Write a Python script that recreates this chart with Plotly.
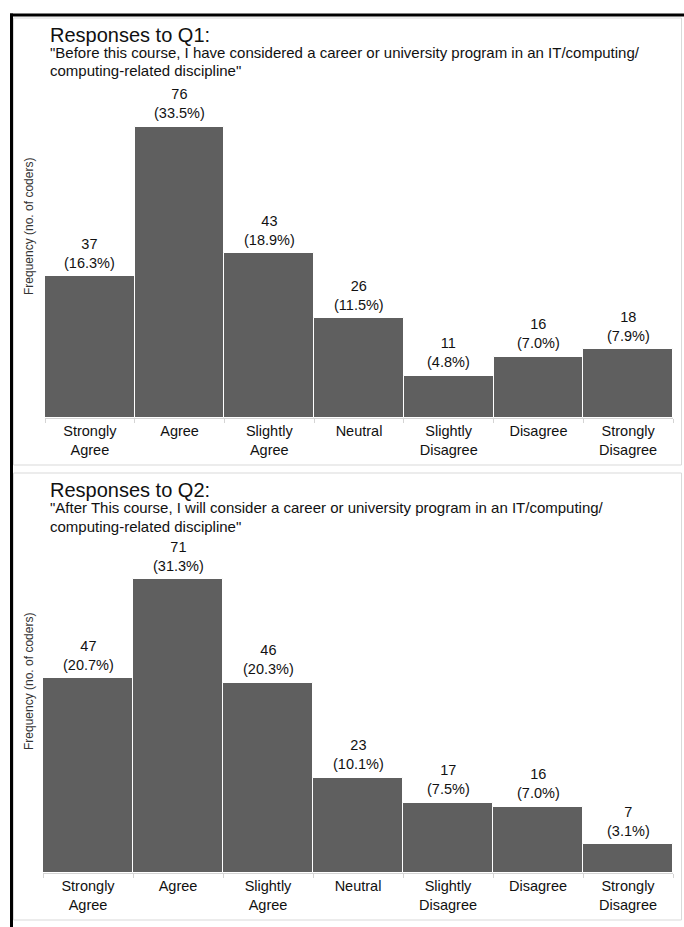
import plotly.graph_objects as go

# ---------------- data ----------------
categories = ["Strongly Agree", "Agree", "Slightly Agree", "Neutral",
              "Slightly Disagree", "Disagree", "Strongly Disagree"]
tick_labels = ["Strongly<br>Agree", "Agree", "Slightly<br>Agree", "Neutral",
               "Slightly<br>Disagree", "Disagree", "Strongly<br>Disagree"]
q1_counts = [37, 76, 43, 26, 11, 16, 18]
q1_pcts = [16.3, 33.5, 18.9, 11.5, 4.8, 7.0, 7.9]
q2_counts = [47, 71, 46, 23, 17, 16, 7]
q2_pcts = [20.7, 31.3, 20.3, 10.1, 7.5, 7.0, 3.1]
q1_title = "Responses to Q1:"
q1_sub = ['"Before this course, I have considered a career or university program in an IT/computing/',
          'computing-related discipline"']
q2_title = "Responses to Q2:"
q2_sub = ['"After This course, I will consider a career or university program in an IT/computing/',
          'computing-related discipline"']
y_title = "Frequency (no. of coders)"

# ---------------- layout helpers ----------------
W, H = 684, 927
FONT = "Liberation Sans, Arial, sans-serif"
BAR = "#5f5f5f"


def X(px):
    return px / W


def Y(px):
    return 1 - px / H


fig = go.Figure()
annotations = []
shapes = []

panels = [
    dict(counts=q1_counts, pcts=q1_pcts, title=q1_title, sub=q1_sub,
         xa="x", ya="y", off=0, xd=(45, 673), yd=(100, 418), top=83.05),
    dict(counts=q2_counts, pcts=q2_pcts, title=q2_title, sub=q2_sub,
         xa="x2", ya="y2", off=455, xd=(43, 673), yd=(555, 873), top=76.8),
]

for i, p in enumerate(panels):
    fig.add_trace(go.Bar(
        x=categories, y=p["counts"], xaxis=p["xa"], yaxis=p["ya"],
        marker=dict(color=BAR, line=dict(color="white", width=1)),
        hoverinfo="skip", showlegend=False, cliponaxis=False,
    ))
    sfx = "" if i == 0 else "2"
    fig.layout["xaxis" + sfx] = dict(
        domain=[X(p["xd"][0]), X(p["xd"][1])], anchor="y" + sfx,
        type="category", categoryorder="array", categoryarray=categories,
        tickmode="array", tickvals=categories, ticktext=tick_labels,
        showline=True, linecolor="#d4d4d4", linewidth=1,
        ticks="outside", tickson="boundaries", ticklen=4, tickcolor="#d4d4d4",
        tickfont=dict(family=FONT, size=14.5, color="#111111"),
        showgrid=False, zeroline=False, fixedrange=True,
    )
    fig.layout["yaxis" + sfx] = dict(
        domain=[Y(p["yd"][1]), Y(p["yd"][0])], anchor="x" + sfx,
        range=[0, p["top"]], showticklabels=False, ticks="",
        showgrid=False, zeroline=False, showline=False, fixedrange=True,
    )
    # value labels (count over percentage)
    for c, n, pc in zip(categories, p["counts"], p["pcts"]):
        annotations.append(dict(x=c, y=n, xref=p["xa"], yref=p["ya"],
                                text="%d<br>(%.1f%%)" % (n, pc), showarrow=False,
                                yanchor="middle", yshift=23, borderpad=0,
                                font=dict(family=FONT, size=14.5, color="#111111")))
    off = p["off"]
    # titles
    annotations.append(dict(x=X(49), y=Y(35 + off), xref="paper", yref="paper",
                            text=p["title"], showarrow=False, xanchor="left", yanchor="middle",
                            borderpad=0, font=dict(family=FONT, size=20, color="#111111")))
    for j, line in enumerate(p["sub"]):
        annotations.append(dict(x=X(49), y=Y(53 + 18 * j + off), xref="paper", yref="paper",
                                text=line, showarrow=False, xanchor="left", yanchor="middle",
                                borderpad=0, font=dict(family=FONT, size=15, color="#111111")))
    # y-axis title
    annotations.append(dict(x=X(29), y=Y(227 + off), xref="paper", yref="paper",
                            text=y_title, showarrow=False, textangle=-90,
                            xanchor="center", yanchor="middle",
                            font=dict(family=FONT, size=12, color="#333333")))
    # panel box
    shapes.append(dict(type="rect", xref="paper", yref="paper",
                       x0=X(13.5), x1=X(681.5), y0=Y(18 + off), y1=Y(465 + off),
                       line=dict(color="#d9d9d9", width=1), fillcolor="rgba(0,0,0,0)",
                       layer="below"))

# black frame (top and left)
shapes.append(dict(type="rect", xref="paper", yref="paper", x0=X(10), x1=X(684),
                   y0=Y(16.5), y1=Y(13.5), line=dict(width=0), fillcolor="black"))
shapes.append(dict(type="rect", xref="paper", yref="paper", x0=X(10), x1=X(13),
                   y0=Y(927), y1=Y(13.5), line=dict(width=0), fillcolor="black"))

fig.update_layout(
    width=W, height=H, margin=dict(l=0, r=0, t=0, b=0),
    paper_bgcolor="white", plot_bgcolor="white",
    bargap=0, annotations=annotations, shapes=shapes,
    font=dict(family=FONT, color="#111111"),
)

fig.write_html("out.html", config={"displayModeBar": False})
